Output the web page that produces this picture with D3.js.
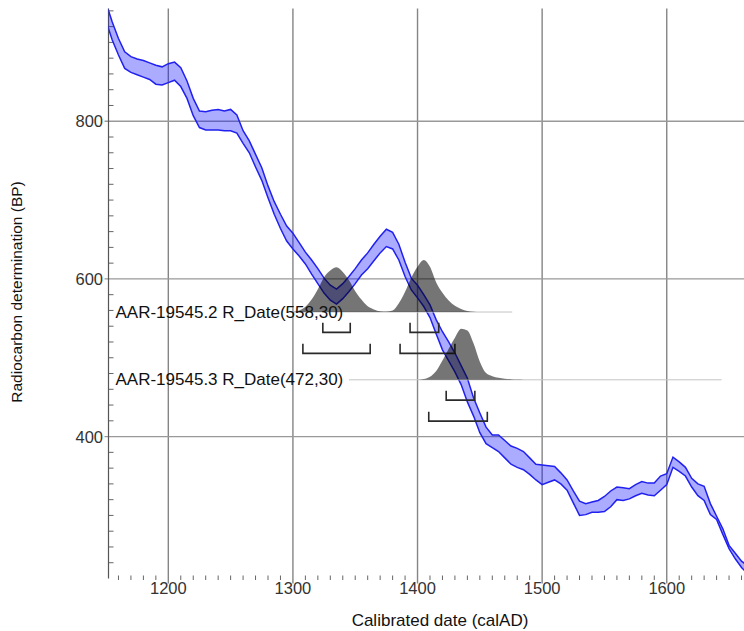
<!DOCTYPE html>
<html>
<head>
<meta charset="utf-8">
<script src="https://cdn.jsdelivr.net/npm/d3@7/dist/d3.min.js"></script>
<style>
  body { margin: 0; background: #fff; }
  text { font-family: "Liberation Sans", Arial, sans-serif; }
</style>
</head>
<body>
<div id="chart"></div>
<script>

// calibration curve (IntCal band), BP upper and lower edge every 5 years
var curveYears = [1150, 1155, 1160, 1165, 1170, 1175, 1180, 1185, 1190, 1195,
  1200, 1205, 1210, 1215, 1220, 1225, 1230, 1235, 1240, 1245,
  1250, 1255, 1260, 1265, 1270, 1275, 1280, 1285, 1290, 1295,
  1300, 1305, 1310, 1315, 1320, 1325, 1330, 1335, 1340, 1345,
  1350, 1355, 1360, 1365, 1370, 1375, 1380, 1385, 1390, 1395,
  1400, 1405, 1410, 1415, 1420, 1425, 1430, 1435, 1440, 1445,
  1450, 1455, 1460, 1465, 1470, 1475, 1480, 1485, 1490, 1495,
  1500, 1505, 1510, 1515, 1520, 1525, 1530, 1535, 1540, 1545,
  1550, 1555, 1560, 1565, 1570, 1575, 1580, 1585, 1590, 1595,
  1600, 1605, 1610, 1615, 1620, 1625, 1630, 1635, 1640, 1645,
  1650, 1655, 1660, 1665];

var curveHi = [950, 926, 905, 888, 882, 879, 877, 874, 871, 869,
  873, 875, 868, 851, 829, 813, 812, 814, 815, 813,
  815, 808, 788, 775, 758, 741, 718, 698, 682, 667,
  658, 646, 634, 624, 613, 601, 592, 587, 594, 603,
  613, 624, 633, 644, 654, 663, 659, 644, 621, 601,
  592, 580, 567, 548, 533, 520, 506, 490, 474, 449,
  430, 412, 402, 402, 395, 388, 385, 381, 373, 365,
  364, 363, 362, 354, 345, 331, 318, 315, 317, 319,
  324, 331, 336, 335, 334, 339, 343, 341, 341, 350,
  353, 374, 368, 361, 347, 340, 337, 315, 299, 283,
  262, 252, 242, 236];

var curveLo = [927, 903, 884, 867, 862, 859, 856, 853, 847, 846,
  849, 852, 844, 829, 807, 792, 789, 789, 789, 788,
  788, 785, 772, 760, 742, 725, 703, 682, 664, 648,
  638, 629, 619, 606, 594, 582, 573, 568, 575, 584,
  594, 605, 613, 623, 633, 641, 638, 624, 603, 586,
  576, 565, 551, 530, 510, 496, 482, 466, 444, 426,
  405, 391, 386, 381, 373, 365, 361, 358, 352, 345,
  339, 342, 345, 340, 332, 316, 300, 301, 304, 304,
  305, 311, 320, 319, 321, 325, 328, 326, 325, 332,
  339, 361, 356, 350, 336, 325, 319, 301, 295, 276,
  258, 245, 234, 226];

// the two dates
var sampleNames = ["AAR-19545.2 R_Date(558,30)", "AAR-19545.3 R_Date(472,30)"];
var sampleBP = [558, 472];

// calibrated probability (relative) for each date
var dist1Years = [1300, 1305, 1310, 1315, 1320, 1325, 1330, 1335, 1340, 1345,
  1350, 1355, 1360, 1365, 1370, 1375, 1380, 1385, 1390, 1395,
  1400, 1405, 1410, 1415, 1420, 1425, 1430, 1435, 1440, 1445, 1450];
var dist1Prob = [0, 0.03, 0.10, 0.24, 0.44, 0.67, 0.80, 0.86, 0.77, 0.61,
  0.40, 0.24, 0.11, 0.05, 0.015, 0.01, 0.03, 0.17, 0.39, 0.66,
  0.87, 1.00, 0.87, 0.57, 0.37, 0.22, 0.12, 0.06, 0.02, 0.005, 0];

var dist2Years = [1400, 1405, 1410, 1415, 1420, 1425, 1430, 1435, 1440, 1445,
  1450, 1455, 1460, 1465, 1470, 1475, 1480, 1485];
var dist2Prob = [0, 0.015, 0.06, 0.17, 0.37, 0.60, 0.81, 0.98, 0.95, 0.70,
  0.35, 0.13, 0.07, 0.04, 0.02, 0.01, 0.004, 0];

// extent of the thin line under each distribution
var baseStart = [1300, 1345];
var baseEnd = [1476, 1644];

// 68.2% and 95.4% ranges
var range68 = [[[1324, 1346], [1394, 1417]], [[1423, 1446]]];
var range95 = [[[1308, 1362], [1386, 1430]], [[1409, 1456]]];

// ticks
var xMajor = [1200, 1300, 1400, 1500, 1600];
var yMajor = [400, 600, 800];

var svgWidth = 744;
var svgHeight = 631;

var margin = {
  top: 8.5,
  bottom: 52.5,
  left: 108.5,
  right: -2.5
};

var chartWidth = svgWidth - margin.left - margin.right;
var chartHeight = svgHeight - margin.top - margin.bottom;

var svg = d3.select("#chart").append("svg")
  .attr("width", svgWidth)
  .attr("height", svgHeight);

svg.append("rect")
  .attr("width", svgWidth)
  .attr("height", svgHeight)
  .attr("fill", "#fff");

var chartGroup = svg.append("g")
  .attr("transform", `translate(${margin.left}, ${margin.top})`);

var xScale = d3.scaleLinear()
  .domain([1152, 1664])
  .range([0, chartWidth]);

var yScale = d3.scaleLinear()
  .domain([220, 943])
  .range([chartHeight, 0]);

// height of a distribution peak
var probScale = d3.scaleLinear()
  .domain([0, 1])
  .range([0, 52]);

svg.append("clipPath")
  .attr("id", "plotclip")
  .append("rect")
  .attr("width", chartWidth)
  .attr("height", chartHeight);

// minor ticks
var xMinor = d3.range(1160, 1664, 10).filter(d => d % 100 != 0);
var yMinor = d3.range(240, 943, 20).filter(d => d % 200 != 0);

chartGroup.append("g").selectAll("line")
  .data(xMinor)
  .enter()
  .append("line")
  .attr("x1", d => xScale(d))
  .attr("x2", d => xScale(d))
  .attr("y1", chartHeight - 3)
  .attr("y2", chartHeight + 1.5)
  .attr("stroke", "#666")
  .attr("stroke-width", 1);

chartGroup.append("g").selectAll("line")
  .data(yMinor)
  .enter()
  .append("line")
  .attr("x1", 0)
  .attr("x2", 5)
  .attr("y1", d => yScale(d))
  .attr("y2", d => yScale(d))
  .attr("stroke", "#666")
  .attr("stroke-width", 1);

// grid lines
chartGroup.append("g").selectAll("line")
  .data(xMajor)
  .enter()
  .append("line")
  .attr("x1", d => xScale(d))
  .attr("x2", d => xScale(d))
  .attr("y1", 0)
  .attr("y2", chartHeight + 5)
  .attr("stroke", "#858585")
  .attr("stroke-width", 1.4);

chartGroup.append("g").selectAll("line")
  .data(yMajor)
  .enter()
  .append("line")
  .attr("x1", -4)
  .attr("x2", chartWidth)
  .attr("y1", d => yScale(d))
  .attr("y2", d => yScale(d))
  .attr("stroke", "#999")
  .attr("stroke-width", 1.3);

// left axis line
chartGroup.append("line")
  .attr("x1", 0).attr("x2", 0)
  .attr("y1", 0).attr("y2", chartHeight)
  .attr("stroke", "#555")
  .attr("stroke-width", 1.2);

// tick labels
chartGroup.append("g").selectAll("text")
  .data(xMajor)
  .enter()
  .append("text")
  .attr("x", d => xScale(d))
  .attr("y", chartHeight + 15.5)
  .attr("text-anchor", "middle")
  .style("font-size", "16.5px")
  .attr("fill", "#333")
  .text(d => d);

chartGroup.append("g").selectAll("text")
  .data(yMajor)
  .enter()
  .append("text")
  .attr("x", -5.5)
  .attr("y", d => yScale(d) + 6)
  .attr("text-anchor", "end")
  .style("font-size", "16.5px")
  .attr("fill", "#333")
  .text(d => d);

// calibration band
var curveData = curveYears.map((yr, i) => ({year: yr, hi: curveHi[i], lo: curveLo[i]}));

var band = chartGroup.append("g").attr("clip-path", "url(#plotclip)");

band.append("path")
  .datum(curveData)
  .attr("d", d3.area()
    .x(d => xScale(d.year))
    .y0(d => yScale(d.lo))
    .y1(d => yScale(d.hi)))
  .attr("fill", "rgba(0,0,255,0.33)");

["hi", "lo"].forEach(function(key) {
  band.append("path")
    .datum(curveData)
    .attr("d", d3.line()
      .x(d => xScale(d.year))
      .y(d => yScale(d[key])))
    .attr("fill", "none")
    .attr("stroke", "#2020f0")
    .attr("stroke-width", 1.5);
});

// distributions
var dists = [
  dist1Years.map((yr, i) => ({year: yr, p: dist1Prob[i]})),
  dist2Years.map((yr, i) => ({year: yr, p: dist2Prob[i]}))
];

dists.forEach(function(dist, k) {
  var base = yScale(sampleBP[k]);

  chartGroup.append("line")
    .attr("x1", xScale(baseStart[k]))
    .attr("x2", xScale(baseEnd[k]))
    .attr("y1", base)
    .attr("y2", base)
    .attr("stroke", "#c4c4c4")
    .attr("stroke-width", 1);

  chartGroup.append("path")
    .datum(dist)
    .attr("d", d3.area()
      .curve(d3.curveMonotoneX)
      .x(d => xScale(d.year))
      .y0(base)
      .y1(d => base - probScale(d.p)))
    .attr("fill", "rgba(0,0,0,0.54)");

  chartGroup.append("text")
    .attr("x", 7)
    .attr("y", base + 5.5)
    .style("font-size", "17px")
    .attr("fill", "#111")
    .text(sampleNames[k]);

  // range brackets
  [[range68[k], 20.3], [range95[k], 41.3]].forEach(function(r) {
    var yb = base + r[1];
    r[0].forEach(function(span) {
      var x0 = xScale(span[0]), x1 = xScale(span[1]);
      chartGroup.append("path")
        .attr("d", `M${x0},${yb - 9.5}V${yb}H${x1}V${yb - 9.5}`)
        .attr("fill", "none")
        .attr("stroke", "#2a2a2a")
        .attr("stroke-width", 1.6);
    });
  });
});

// axis titles
svg.append("text")
  .attr("x", 440)
  .attr("y", 625.5)
  .attr("text-anchor", "middle")
  .style("font-size", "17px")
  .attr("fill", "#111")
  .text("Calibrated date (calAD)");

svg.append("text")
  .attr("transform", "translate(22, 292) rotate(-90)")
  .attr("text-anchor", "middle")
  .style("font-size", "15.5px")
  .attr("fill", "#111")
  .text("Radiocarbon determination (BP)");

</script>
</body>
</html>
